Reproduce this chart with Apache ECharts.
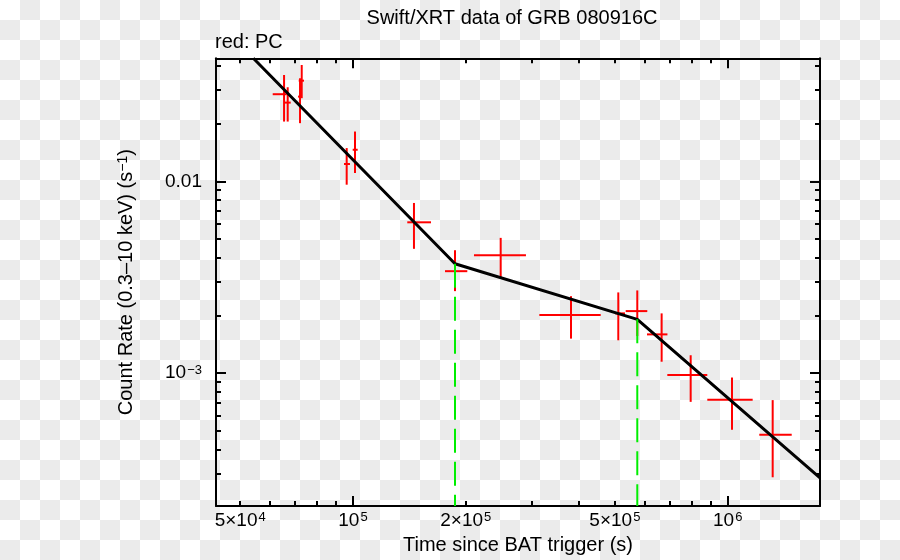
<!DOCTYPE html>
<html>
<head>
<meta charset="utf-8">
<script src="https://cdn.jsdelivr.net/npm/echarts@6/dist/echarts.min.js"></script>
<style>
html,body{margin:0;padding:0;}
body{width:900px;height:560px;background:repeating-conic-gradient(#ebebeb 0 25%, #ffffff 0 50%) 0 0/40px 40px;}
#chart{width:900px;height:560px;}
</style>
</head>
<body>
<div id="chart"></div>
<script>
// ---- data ----
const timeMid  = [65470, 66950, 72220, 72970, 96200, 101240, 145460, 187190, 247850, 381800, 510600, 573800, 666400, 796600, 1026800, 1318600];
const timeLo   = [61060, 65750, 71340, 71640, 94620, 99820, 139610, 176030, 210320, 314300, 500300, 534400, 609100, 690100, 882300, 1214300];
const timeHi   = [66540, 68200, 73110, 74010, 98170, 102930, 161530, 201880, 289480, 458300, 532100, 610200, 690600, 882300, 1166000, 1482200];
const rateMid  = [0.02848, 0.02575, 0.02767, 0.03351, 0.01232, 0.01462, 0.006120, 0.003404, 0.004123, 0.002010, 0.002051, 0.002108, 0.001594, 0.0009799, 0.0007263, 0.0004777];
const rateLo   = [0.02051, 0.02051, 0.02012, 0.02715, 0.009613, 0.01106, 0.004452, 0.002679, 0.003146, 0.001515, 0.001485, 0.001563, 0.001148, 0.0007091, 0.0005072, 0.0002868];
const rateHi   = [0.03588, 0.03096, 0.03449, 0.04045, 0.01492, 0.01820, 0.007720, 0.004378, 0.005077, 0.002522, 0.002638, 0.002702, 0.002051, 0.001241, 0.0009498, 0.0007241];

const modelTime = [54200, 187190, 573800, 1763600];
const modelRate = [0.04383, 0.003720, 0.001909, 0.0002844];
const breakIndex = [1, 2];

const xRange = [43092, 1763600];
const yRange = [0.0002029, 0.04383];

const xTickValues = [50000, 100000, 200000, 500000, 1000000];
const xTickLabels = ['5×10^4', '10^5', '2×10^5', '5×10^5', '10^6'];
const xMajorTicks = [100000, 1000000];
const xMinorTicks = [50000, 60000, 70000, 80000, 90000, 200000, 300000, 400000, 500000, 600000, 700000, 800000, 900000];

const yTickValues = [0.01, 0.001];
const yTickLabels = ['0.01', '10^−3'];
const yMajorTicks = [0.001, 0.01];
const yMinorTicks = [0.0003, 0.0004, 0.0005, 0.0006, 0.0007, 0.0008, 0.0009, 0.002, 0.003, 0.004, 0.005, 0.006, 0.007, 0.008, 0.009, 0.02, 0.03, 0.04];

const titleText = 'Swift/XRT data of GRB 080916C';
const subText = 'red: PC';
const xName = 'Time since BAT trigger (s)';
const yName = 'Count Rate (0.3–10 keV) (s^−1)';

// ---- helpers ----
const L = Math.log10;
const logs = a => a.map(v => L(v));
const FONT = '"Liberation Sans", Arial, Helvetica, sans-serif';
function toRich(s) {
  const p = s.split('^');
  return p.length > 1 ? '{n|' + p[0] + '}{s|' + p[1] + '}' : '{n|' + s + '}';
}
function richName(s) {
  const m = s.match(/^(.*)\^([^)]*)(.*)$/);
  return m ? '{n|' + m[1] + '}{s|' + m[2] + '}{n|' + m[3] + '}' : '{n|' + s + '}';
}
function labelFor(values, labels) {
  const lv = logs(values);
  return function (v) {
    for (let i = 0; i < lv.length; i++) if (Math.abs(lv[i] - v) < 1e-6) return toRich(labels[i]);
    return '';
  };
}
const richTick = {
  n: { fontSize: 19, fontFamily: FONT, color: '#000' },
  s: { fontSize: 13, fontFamily: FONT, color: '#000', verticalAlign: 'top', padding: [0, 0, 0, 1] }
};
const richTitle = {
  n: { fontSize: 20, fontFamily: FONT, color: '#000' },
  s: { fontSize: 14, fontFamily: FONT, color: '#000', verticalAlign: 'top' }
};

const xMin = L(xRange[0]), xMax = L(xRange[1]);
const yMin = L(yRange[0]), yMax = L(yRange[1]);
const tickLine = { color: '#000', width: 2 };

function axisX(pos, major, withLabel) {
  const a = {
    type: 'value', position: pos, min: xMin, max: xMax,
    axisLine: { show: major, onZero: false, lineStyle: { color: '#000', width: 2 } },
    axisTick: { show: true, inside: true, length: major ? 10 : 5, customValues: logs(major ? xMajorTicks : xMinorTicks), lineStyle: tickLine },
    axisLabel: { show: false },
    splitLine: { show: false }
  };
  if (withLabel) {
    a.axisLabel = { show: true, customValues: logs(xTickValues), formatter: labelFor(xTickValues, xTickLabels), rich: richTick, margin: 5 };
    a.name = xName;
    a.nameLocation = 'middle';
    a.nameGap = 28;
    a.nameTextStyle = { fontSize: 20, fontFamily: FONT, color: '#000' };
  }
  return a;
}
function axisY(pos, major, withLabel) {
  const a = {
    type: 'value', position: pos, min: yMin, max: yMax,
    axisLine: { show: major, onZero: false, lineStyle: { color: '#000', width: 2 } },
    axisTick: { show: true, inside: true, length: major ? 10 : 5, customValues: logs(major ? yMajorTicks : yMinorTicks), lineStyle: tickLine },
    axisLabel: { show: false },
    splitLine: { show: false }
  };
  if (withLabel) {
    a.axisLabel = { show: true, customValues: logs(yTickValues), formatter: labelFor(yTickValues, yTickLabels), rich: richTick, margin: 14 };
    a.name = richName(yName);
    a.nameLocation = 'middle';
    a.nameGap = 80;
    a.nameTextStyle = { fontSize: 20, fontFamily: FONT, color: '#000', rich: richTitle };
  }
  return a;
}

const errData = timeMid.map((t, i) => [L(t), L(timeLo[i]), L(timeHi[i]), L(rateMid[i]), L(rateLo[i]), L(rateHi[i])]);
const modelData = modelTime.map((t, i) => [L(t), L(modelRate[i])]);

const series = [
  {
    type: 'custom', name: 'PC', xAxisIndex: 0, yAxisIndex: 0, z: 2,
    data: errData,
    encode: { x: [0, 1, 2], y: [3, 4, 5] },
    renderItem: function (params, api) {
      const l = api.coord([api.value(1), api.value(3)]);
      const r = api.coord([api.value(2), api.value(3)]);
      const lo = api.coord([api.value(0), api.value(4)]);
      const hi = api.coord([api.value(0), api.value(5)]);
      const st = { stroke: '#ff0000', lineWidth: 2 };
      return {
        type: 'group', children: [
          { type: 'line', shape: { x1: l[0], y1: l[1], x2: r[0], y2: r[1] }, style: st },
          { type: 'line', shape: { x1: lo[0], y1: lo[1], x2: hi[0], y2: hi[1] }, style: st }
        ]
      };
    }
  },
  {
    type: 'line', name: 'model', xAxisIndex: 0, yAxisIndex: 0, z: 3,
    data: modelData, showSymbol: false, symbol: 'none', clip: true,
    lineStyle: { color: '#000', width: 3 }
  }
];
breakIndex.forEach(function (bi) {
  series.push({
    type: 'line', xAxisIndex: 0, yAxisIndex: 0, z: 4,
    data: [[L(modelTime[bi]), L(modelRate[bi])], [L(modelTime[bi]), yMin]],
    symbol: 'none', showSymbol: false,
    lineStyle: { color: '#00ee00', width: 2, type: [24, 9] }
  });
});

const chart = echarts.init(document.getElementById('chart'), null, { renderer: 'canvas' });
chart.setOption({
  animation: false,
  backgroundColor: 'transparent',
  grid: { left: 216, right: 80, top: 58.3, bottom: 52.8, containLabel: false },
  xAxis: [axisX('bottom', true, true), axisX('bottom', false, false), axisX('top', true, false), axisX('top', false, false)],
  yAxis: [axisY('left', true, true), axisY('left', false, false), axisY('right', true, false), axisY('right', false, false)],
  graphic: [
    { type: 'text', x: 512, y: 18, style: { text: titleText, align: 'center', verticalAlign: 'middle', fill: '#000', fontSize: 20, fontFamily: FONT } },
    { type: 'text', x: 215, y: 42, style: { text: subText, align: 'left', verticalAlign: 'middle', fill: '#000', fontSize: 20, fontFamily: FONT } }
  ],
  series: series
});
</script>
</body>
</html>
